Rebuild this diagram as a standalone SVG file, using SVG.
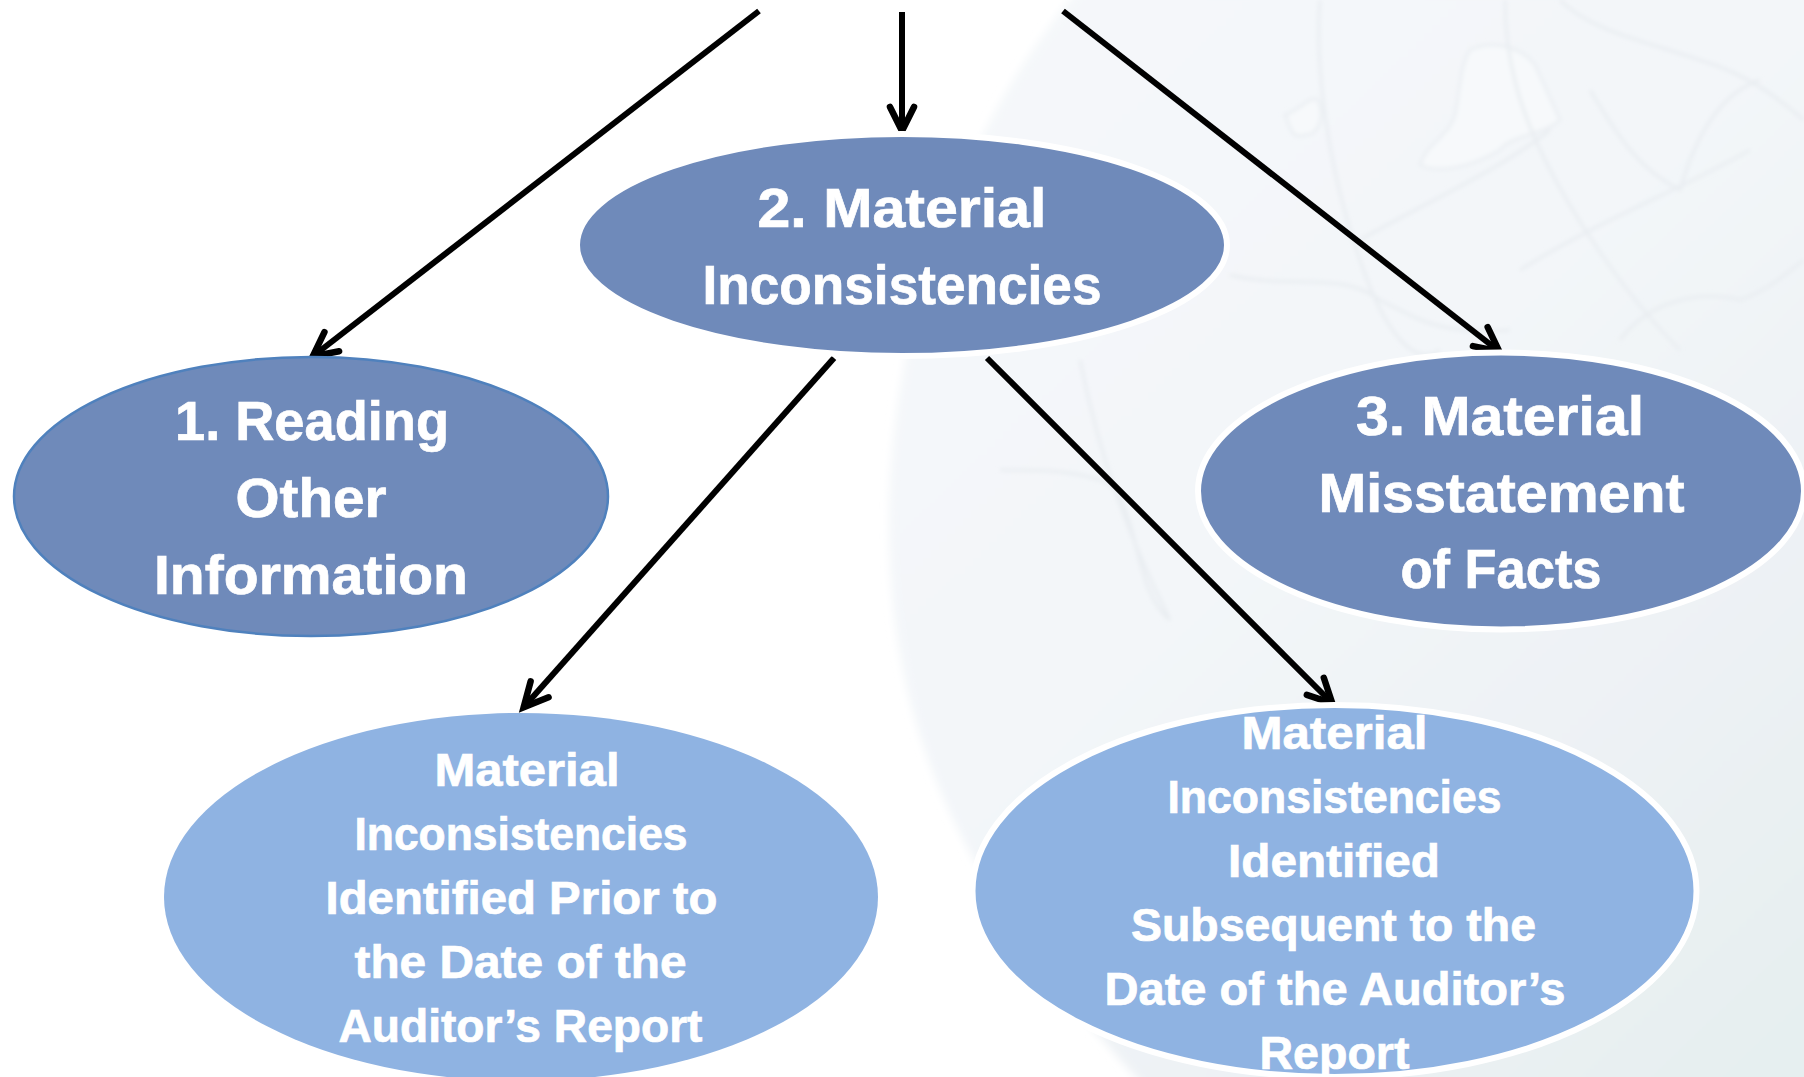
<svg xmlns="http://www.w3.org/2000/svg" width="1804" height="1077" viewBox="0 0 1804 1077">
<style>
.dark{fill:#6f8aba;stroke:#fff;stroke-width:6}
.light{fill:#8fb3e2;stroke:#fff;stroke-width:6}
.conn{fill:none;stroke:#000;stroke-width:6;marker-end:url(#open)}
text{font-family:"Liberation Sans",Arial,sans-serif;font-weight:700;fill:#fff;stroke:#fff;stroke-width:.7;text-anchor:middle}
.big{font-size:55px}
.small{font-size:46px}
.map{fill:none;stroke:#e9edf1;stroke-width:3}
.land{fill:#f7f9fb;stroke:#ebeff3;stroke-width:3}
</style>
<defs>
<marker id="open" markerUnits="userSpaceOnUse" markerWidth="40" markerHeight="40" refX="32" refY="20" orient="auto" overflow="visible">
<path d="M7,8 L31,20 L7,32" fill="none" stroke="#000" stroke-width="6.500" stroke-linecap="round" stroke-linejoin="miter"/>
</marker>
<linearGradient id="globe" x1="0.1" y1="0" x2="0.9" y2="1">
<stop offset="0" stop-color="#f5f8fa"/>
<stop offset="0.45" stop-color="#f3f6f9"/>
<stop offset="0.7" stop-color="#eef2f5"/>
<stop offset="1" stop-color="#e6eff0"/>
</linearGradient>
<filter id="soft" x="-5%" y="-5%" width="110%" height="110%"><feGaussianBlur stdDeviation="4"/></filter>
<filter id="softer" x="-5%" y="-5%" width="110%" height="110%"><feGaussianBlur stdDeviation="2"/></filter>
</defs>
<rect width="1804" height="1077" fill="#fff"/>
<g id="background">
<path filter="url(#soft)" d="M1078,-10 C960,130 889,330 889,520 C889,690 930,860 1148,1090 L1820,1090 L1820,-10 Z" fill="url(#globe)"/>
<g filter="url(#softer)">
<path class="land" d="M1470,50 C1490,40 1520,45 1535,65 L1560,120 C1545,135 1510,135 1500,150 C1475,165 1440,175 1420,165 C1425,145 1450,135 1455,115 C1460,90 1460,65 1470,50 Z"/>
<path class="map" d="M1320,0 C1315,60 1325,160 1360,260 C1380,320 1410,370 1440,350"/>
<path class="map" d="M1505,0 C1505,60 1520,110 1545,160 C1570,210 1620,290 1680,350"/>
<path class="map" d="M1360,240 C1430,200 1500,170 1550,130"/>
<path class="map" d="M1520,270 C1600,220 1680,190 1750,150"/>
<path class="map" d="M1230,275 C1290,290 1340,270 1380,300 C1420,320 1440,335 1510,330"/>
<path class="map" d="M1560,0 C1590,30 1640,40 1700,60 C1750,75 1780,100 1804,120"/>
<path class="map" d="M1590,90 C1620,140 1640,170 1680,190 C1700,120 1730,90 1760,80"/>
<path class="map" d="M1620,340 C1650,300 1700,290 1740,300 C1770,290 1790,270 1804,260"/>
<path class="map" d="M1000,470 C1040,470 1070,470 1100,480 C1140,490 1130,590 1170,620"/>
<path class="map" d="M1080,360 C1100,460 1130,540 1170,620"/>
<path class="land" d="M1285,115 C1300,110 1310,95 1318,100 C1325,115 1320,135 1305,135 C1290,140 1290,125 1285,115 Z"/>
</g>
</g>
<g id="connectors">
<line class="conn" x1="759" y1="11" x2="312" y2="357"/>
<line class="conn" x1="902" y1="12" x2="902" y2="132"/>
<line class="conn" x1="1063" y1="11" x2="1500" y2="352"/>
<line class="conn" x1="834" y1="358" x2="523" y2="708"/>
<line class="conn" x1="987" y1="358" x2="1333" y2="704"/>
</g>
<g id="node-1">
<ellipse cx="311" cy="496.500" rx="297" ry="139.500" fill="#6f8aba" stroke="#4f81bd" stroke-width="2.500"/>
<text class="big" x="312" y="440" textLength="274" lengthAdjust="spacingAndGlyphs">1. Reading</text>
<text class="big" x="311" y="517" textLength="151" lengthAdjust="spacingAndGlyphs">Other</text>
<text class="big" x="311" y="594" textLength="314" lengthAdjust="spacingAndGlyphs">Information</text>
</g>
<g id="node-2">
<ellipse class="dark" cx="902" cy="245" rx="325" ry="111"/>
<text class="big" x="902" y="227" textLength="289" lengthAdjust="spacingAndGlyphs">2. Material</text>
<text class="big" x="902" y="304" textLength="399" lengthAdjust="spacingAndGlyphs">Inconsistencies</text>
</g>
<g id="node-3">
<ellipse class="dark" cx="1501" cy="491" rx="303" ry="138.500"/>
<text class="big" x="1500" y="435" textLength="288" lengthAdjust="spacingAndGlyphs">3. Material</text>
<text class="big" x="1501.500" y="512" textLength="366" lengthAdjust="spacingAndGlyphs">Misstatement</text>
<text class="big" x="1501" y="588" textLength="201" lengthAdjust="spacingAndGlyphs">of Facts</text>
</g>
<g id="node-4">
<ellipse cx="521" cy="897" rx="357" ry="184" fill="#8fb3e2"/>
<text class="small" x="527" y="786" textLength="185" lengthAdjust="spacingAndGlyphs">Material</text>
<text class="small" x="521" y="850" textLength="333" lengthAdjust="spacingAndGlyphs">Inconsistencies</text>
<text class="small" x="521.500" y="914" textLength="392" lengthAdjust="spacingAndGlyphs">Identified Prior to</text>
<text class="small" x="520.500" y="978" textLength="332" lengthAdjust="spacingAndGlyphs">the Date of the</text>
<text class="small" x="520.500" y="1042" textLength="364" lengthAdjust="spacingAndGlyphs">Auditor’s Report</text>
</g>
<g id="node-5">
<ellipse class="light" cx="1334.500" cy="891" rx="362" ry="186"/>
<text class="small" x="1334.500" y="749" textLength="186" lengthAdjust="spacingAndGlyphs">Material</text>
<text class="small" x="1334.500" y="813" textLength="334" lengthAdjust="spacingAndGlyphs">Inconsistencies</text>
<text class="small" x="1334" y="877" textLength="212" lengthAdjust="spacingAndGlyphs">Identified</text>
<text class="small" x="1333.500" y="941" textLength="405" lengthAdjust="spacingAndGlyphs">Subsequent to the</text>
<text class="small" x="1335" y="1005" textLength="461" lengthAdjust="spacingAndGlyphs">Date of the Auditor’s</text>
<text class="small" x="1334.500" y="1069" textLength="150" lengthAdjust="spacingAndGlyphs">Report</text>
</g>
</svg>
